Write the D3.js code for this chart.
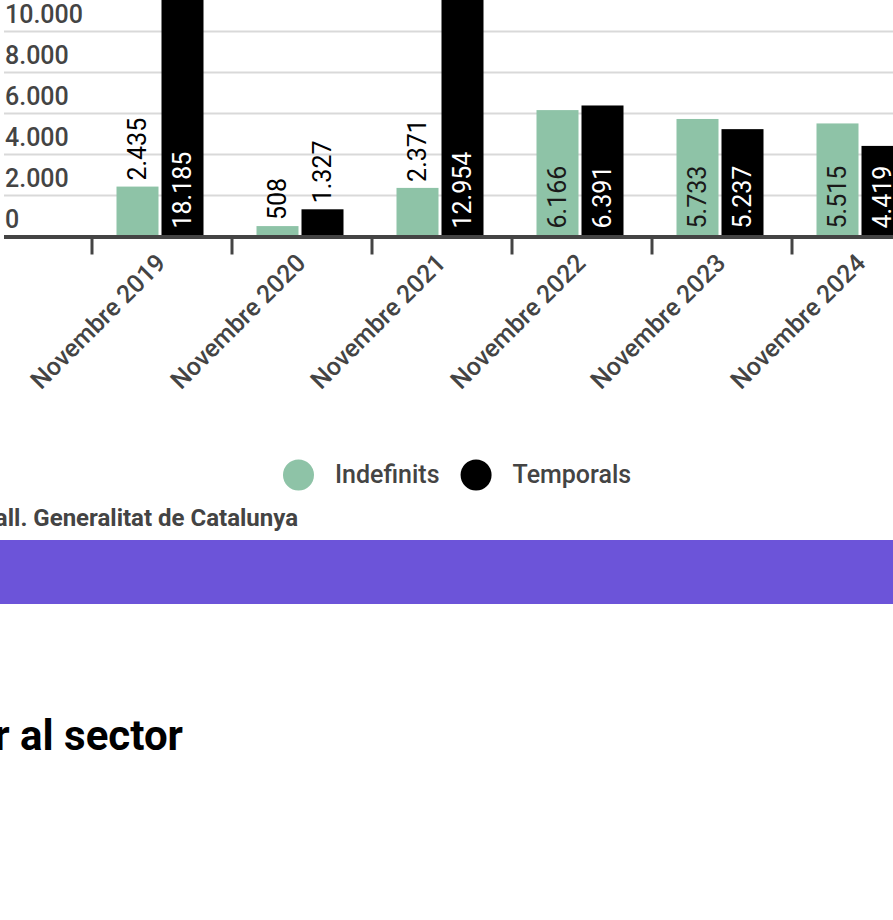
<!DOCTYPE html>
<html>
<head>
<meta charset="utf-8">
<script src="https://cdn.jsdelivr.net/npm/d3@7"></script>
<style>
  body { margin: 0; overflow: hidden; background: #fff; font-family: Roboto, sans-serif; }
</style>
</head>
<body>
<svg id="chart"></svg>
<script>
const categories = ['Novembre 2019', 'Novembre 2020', 'Novembre 2021', 'Novembre 2022', 'Novembre 2023', 'Novembre 2024'];
const seriesNames = ['Indefinits', 'Temporals'];
const indefinits = [2435, 508, 2371, 6166, 5733, 5515];
const temporals = [18185, 1327, 12954, 6391, 5237, 4419];
const yTicks = [0, 2000, 4000, 6000, 8000, 10000];

const colors = {Indefinits: '#8ec3a7', Temporals: '#000000'};
const sourceText = "Font: Departament d'Empresa i Treball. Generalitat de Catalunya";
const nextTitle = 'Contractació per al sector';

const width = 893, height = 920;
const plotLeft = 4, plotRight = 900;
const y0 = 236.5;

const locale = d3.formatLocale({decimal: ',', thousands: '.', grouping: [3], currency: ['', '€']});
const fmt = locale.format(',d');

const data = categories.map((c, i) => ({
  cat: c,
  values: [
    {key: 'Indefinits', value: indefinits[i]},
    {key: 'Temporals', value: temporals[i]}
  ]
}));

const svg = d3.select('#chart')
    .attr('width', width)
    .attr('height', height);

const x0 = d3.scaleBand()
    .domain(categories)
    .range([90, 930])
    .paddingInner(53 / 140)
    .paddingOuter(53 / 280);

const x1 = d3.scaleBand()
    .domain(seriesNames)
    .range([0, x0.bandwidth()])
    .paddingInner(3 / 45);

const y = d3.scaleLinear()
    .domain([0, 20000])
    .range([y0, y0 - 410]);

// gridlines + y labels
const grid = svg.append('g').attr('class', 'grid');
grid.selectAll('line')
  .data(yTicks.filter(d => d > 0))
  .join('line')
    .attr('x1', plotLeft)
    .attr('x2', plotRight)
    .attr('y1', d => y(d))
    .attr('y2', d => y(d))
    .attr('stroke', '#d9d9d9')
    .attr('stroke-width', 2);

grid.selectAll('text')
  .data(yTicks)
  .join('text')
    .attr('x', plotLeft + 1)
    .attr('y', d => y(d) - 8.5)
    .attr('fill', '#444')
    .attr('font-size', 25)
    .attr('font-weight', 500)
    .text(d => fmt(d));

// bars
const groups = svg.append('g').attr('class', 'bars')
  .selectAll('g')
  .data(data)
  .join('g')
    .attr('transform', d => `translate(${x0(d.cat)},0)`);

groups.selectAll('rect')
  .data(d => d.values)
  .join('rect')
    .attr('x', d => x1(d.key))
    .attr('width', x1.bandwidth())
    .attr('y', d => y(d.value))
    .attr('height', d => y0 - y(d.value))
    .attr('fill', d => colors[d.key]);

groups.selectAll('text')
  .data(d => d.values)
  .join('text')
    .attr('font-size', 25)
    .attr('dy', '0.32em')
    .text(d => fmt(d.value))
    .each(function(d) {
      const t = d3.select(this);
      const len = this.getComputedTextLength();
      const cx = x1(d.key) + x1.bandwidth() / 2;
      const barH = y0 - y(d.value);
      let ty, fill;
      if (barH < len + 18) {
        ty = y(d.value) - 6;
        fill = '#000';
      } else {
        ty = y0 - 8;
        fill = d.key === 'Temporals' ? '#fff' : '#1a1a1a';
      }
      t.attr('transform', `translate(${cx},${ty}) rotate(-90)`)
        .attr('fill', fill);
    });

// x axis
const axis = svg.append('g').attr('class', 'x-axis');
axis.append('line')
    .attr('x1', plotLeft)
    .attr('x2', plotRight)
    .attr('y1', y0 + 0.5)
    .attr('y2', y0 + 0.5)
    .attr('stroke', '#444')
    .attr('stroke-width', 4);

const step = x0.step();
axis.selectAll('.tick')
  .data(categories)
  .join('line')
    .attr('class', 'tick')
    .attr('x1', d => x0(d) - (step - x0.bandwidth()) / 2 + 2)
    .attr('x2', d => x0(d) - (step - x0.bandwidth()) / 2 + 2)
    .attr('y1', y0 + 2)
    .attr('y2', y0 + 18)
    .attr('stroke', '#444')
    .attr('stroke-width', 3);

axis.selectAll('.label')
  .data(categories)
  .join('text')
    .attr('class', 'label')
    .attr('transform', d => `translate(${x0(d) + x0.bandwidth() / 2 + 7},${y0 + 28}) rotate(-45)`)
    .attr('text-anchor', 'end')
    .attr('fill', '#444')
    .attr('font-size', 25)
    .attr('font-weight', 500)
    .text(d => d);

// legend
const legend = svg.append('g').attr('class', 'legend');
let lx = 283;
seriesNames.forEach(name => {
  legend.append('circle')
      .attr('cx', lx + 15.5)
      .attr('cy', 475)
      .attr('r', 15.5)
      .attr('fill', colors[name]);
  const txt = legend.append('text')
      .attr('x', lx + 52)
      .attr('y', 483)
      .attr('fill', '#444')
      .attr('font-size', 25)
      .attr('font-weight', 500)
      .text(name);
  lx += 52 + txt.node().getComputedTextLength() + 21;
});

// source
svg.append('text')
    .attr('x', 298)
    .attr('y', 526)
    .attr('text-anchor', 'end')
    .attr('fill', '#444')
    .attr('font-size', 24)
    .attr('font-weight', 700)
    .text(sourceText);

// purple band
svg.append('rect')
    .attr('x', 0)
    .attr('y', 540)
    .attr('width', width)
    .attr('height', 64)
    .attr('fill', '#6c54d9');

// next section title
svg.append('text')
    .attr('x', 183)
    .attr('y', 750)
    .attr('text-anchor', 'end')
    .attr('fill', '#000')
    .attr('font-size', 42)
    .attr('font-weight', 700)
    .text(nextTitle);
</script>
</body>
</html>
